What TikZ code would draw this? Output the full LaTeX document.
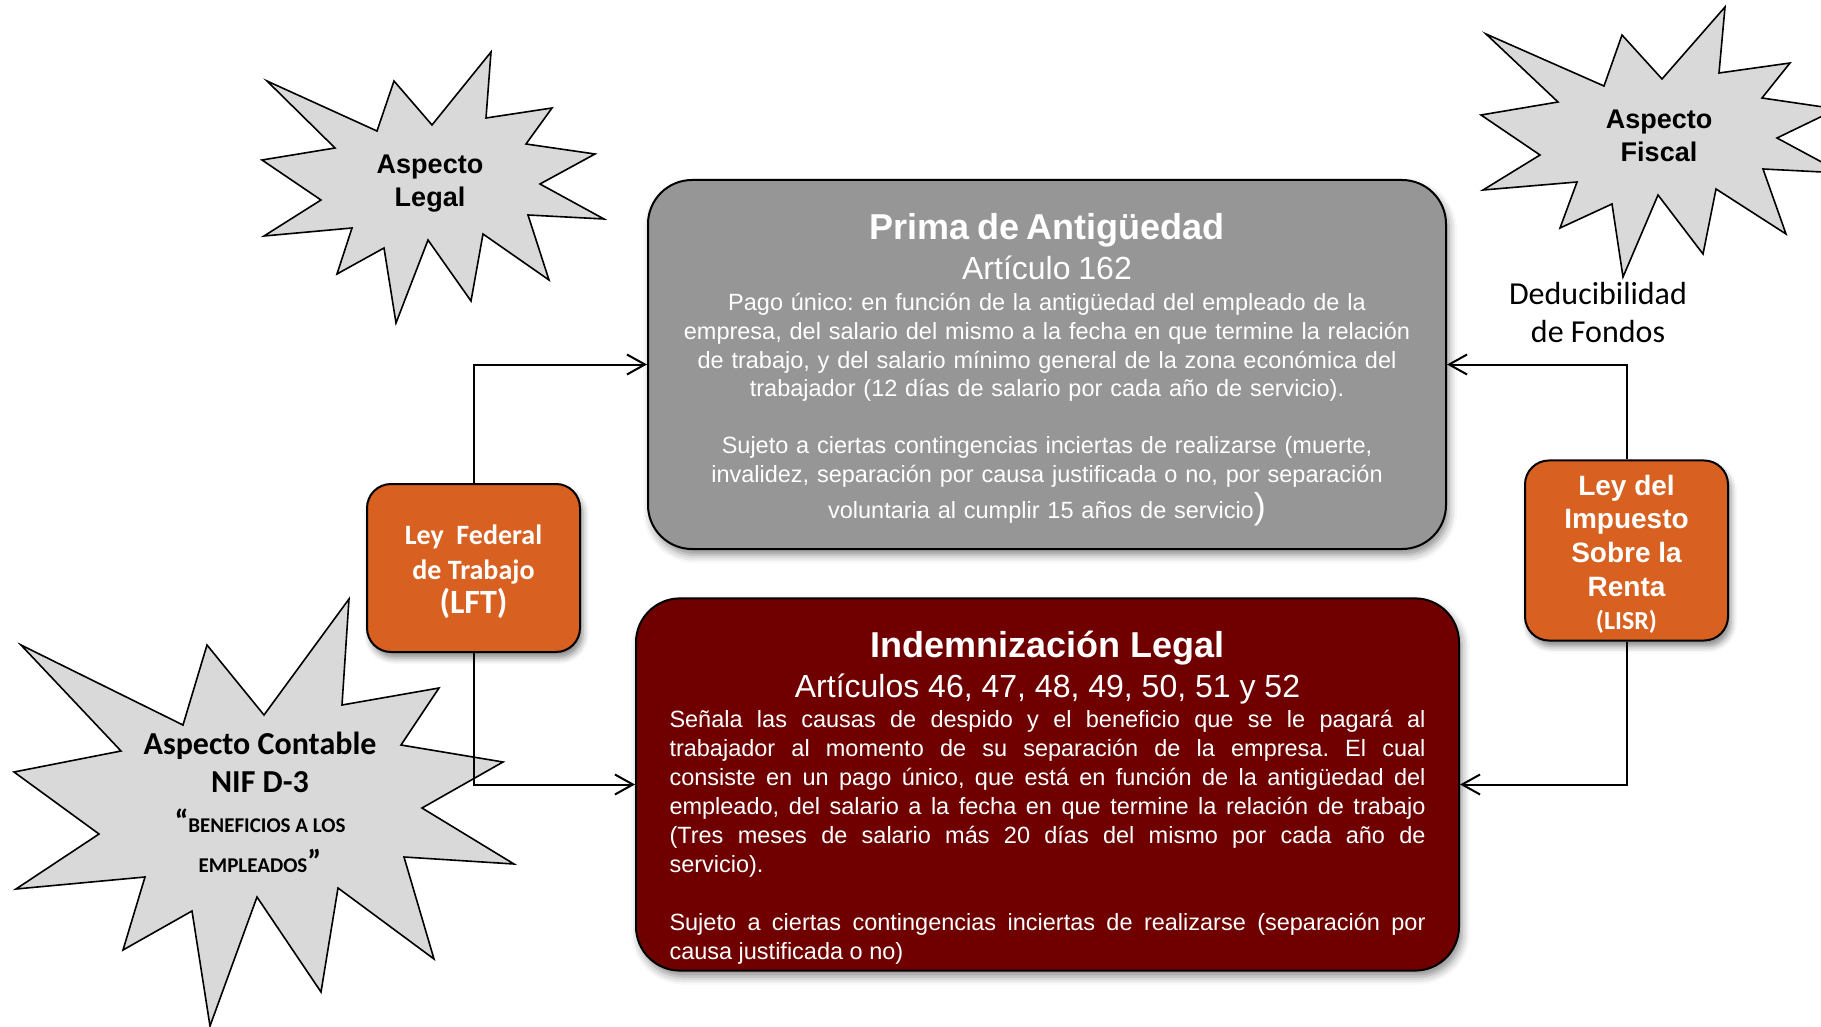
\documentclass[tikz,border=0pt]{standalone}
\usepackage{fontspec}
\setmainfont{Liberation Sans}
\newfontfamily\calibri{Carlito}
\usetikzlibrary{arrows.meta,shadows.blur}
\frenchspacing

\definecolor{primagray}{RGB}{150,150,150}
\definecolor{indemred}{RGB}{112,0,0}
\definecolor{leyorange}{RGB}{216,96,32}
\definecolor{blastgray}{RGB}{217,217,217}

\begin{document}
\begin{tikzpicture}[x=0.5pt,y=-0.5pt,
  blast/.style={draw=black,fill=blastgray,line width=0.8pt},
  blasttext/.style={align=center,font=\bfseries\fontsize{13.5}{16.5}\selectfont},
  bigbox/.style={draw=black,line width=1pt,rounded corners=22pt,text=white,
    blur shadow={shadow xshift=1.5pt,shadow yshift=-3pt,shadow blur radius=4pt,shadow opacity=45}},
  leybox/.style={draw=black,fill=leyorange,line width=1pt,rounded corners=12pt,text=white,align=center,
    blur shadow={shadow xshift=1.5pt,shadow yshift=-3pt,shadow blur radius=3pt,shadow opacity=45}},
  link/.style={line width=1pt,-{Straight Barb[length=9pt,width=10pt]}}]
  \useasboundingbox (0,0) rectangle (1821,1027);
  \clip (0,0) rectangle (1821,1027);

  \filldraw[blast] (267,81) -- (377,131) -- (394,81) -- (432,125) -- (491,52) -- (486,118) -- (552,108) -- (526,144)
    -- (595,154) -- (540,184) -- (604,219) -- (528,215) -- (549,280) -- (483,234) -- (471,301) -- (428,240)
    -- (396,323) -- (384,248) -- (337,274) -- (352,228) -- (264,236) -- (321,200) -- (262,160) -- (335,148) -- cycle;
  \filldraw[blast] (1486,34) -- (1604,86) -- (1622,35) -- (1662,79) -- (1725,7) -- (1719,73) -- (1790,63) -- (1762,98)
    -- (1837,109) -- (1777,138) -- (1842,173) -- (1763,169) -- (1786,234) -- (1716,189) -- (1703,254) -- (1658,195)
    -- (1623,277) -- (1612,204) -- (1560,228) -- (1577,182) -- (1483,190) -- (1540,155) -- (1481,115) -- (1558,102) -- cycle;
  \filldraw[blast] (21,645) -- (183,725) -- (207,645) -- (264,715) -- (349,599) -- (342,705) -- (439,688) -- (401,745)
    -- (503,762) -- (422,808) -- (514,864) -- (404,857) -- (434,959) -- (338,888) -- (321,992) -- (257,897)
    -- (210,1026) -- (192,911) -- (123,950) -- (145,877) -- (16,889) -- (99,834) -- (14,772) -- (121,751) -- cycle;

  \node[blasttext] (legal) at (430,184) {Aspecto\\Legal};
  \node[blasttext] (fiscal) at (1659,136) {Aspecto\\Fiscal};
  \node[align=center,font=\calibri\bfseries\fontsize{16}{19}\selectfont] (contable) at (260,802)
    {Aspecto Contable\\NIF D-3\\[1pt]{\fontsize{16}{19}\selectfont“}{\fontsize{10.5}{19}\selectfont BENEFICIOS A LOS}\\[1pt]
     {\fontsize{10.5}{19}\selectfont EMPLEADOS}{\fontsize{16}{19}\selectfont”}};
  \node[align=center,font=\calibri\fontsize{16}{19}\selectfont] (deduc) at (1598,313) {Deducibilidad\\de Fondos};

  \node[bigbox,fill=primagray,minimum width=399pt,minimum height=184.5pt,text width=380pt,align=center,
    font=\fontsize{11.75}{14.3}\selectfont] (prima) at (1047,364.5) {%
    {\bfseries\fontsize{18}{20}\selectfont\rule{0pt}{18.5pt}Prima de Antigüedad\par}
    {\fontsize{16}{20}\selectfont Artículo 162\par}
    \vspace{1.2pt}
    Pago único: en función de la antigüedad del empleado de la\\
    empresa, del salario del mismo a la fecha en que termine la relación\\
    de trabajo, y del salario mínimo general de la zona económica del\\
    trabajador (12 días de salario por cada año de servicio).\\[14.3pt]
    Sujeto a ciertas contingencias inciertas de realizarse (muerte,\\
    invalidez, separación por causa justificada o no, por separación\\[1.5pt]
    voluntaria al cumplir 15 años de servicio{\fontsize{18}{18}\selectfont)}\par};

  \node[bigbox,fill=indemred,minimum width=411.5pt,minimum height=185.5pt,text width=378pt,align=justify,
    font=\fontsize{11.75}{14.5}\selectfont] (indem) at (1047.5,784.5) {%
    \tolerance=9999\hbadness=10000
    {\centering\bfseries\fontsize{18}{20}\selectfont\rule{0pt}{26pt}Indemnización Legal\par}
    {\centering\fontsize{16}{20}\selectfont Artículos 46, 47, 48, 49, 50, 51 y 52\par}
    \vspace{0.5pt}
    Señala las causas de despido y el beneficio que se le pagará al\linebreak
    trabajador al momento de su separación de la empresa. El cual\linebreak
    consiste en un pago único, que está en función de la antigüedad del\linebreak
    empleado, del salario a la fecha en que termine la relación de trabajo\linebreak
    (Tres meses de salario más 20 días del mismo por cada año de\linebreak
    servicio).\par
    \vspace{14.5pt}
    Sujeto a ciertas contingencias inciertas de realizarse (separación por\linebreak
    causa justificada o no)\par};

  \node[leybox,minimum width=106.5pt,minimum height=84pt,font=\calibri\bfseries\fontsize{14}{17.25}\selectfont] (lft)
    at (473.5,568) {\rule{0pt}{14pt}Ley~~Federal\\de Trabajo\\{\fontsize{17}{17.25}\selectfont(LFT)}};
  \node[leybox,minimum width=101.5pt,minimum height=89.5pt,font=\bfseries\fontsize{14}{16.85}\selectfont] (lisr)
    at (1626.5,550.5) {\rule{0pt}{14pt}Ley del\\Impuesto\\Sobre la\\Renta\\{\calibri\fontsize{13}{16.85}\selectfont(LISR)}};

  \draw[link] (lft.north) |- (prima.west);
  \draw[link] (lft.south) |- (indem.west);
  \draw[link] (lisr.north) |- (prima.east);
  \draw[link] (lisr.south) |- (indem.east);
\end{tikzpicture}
\end{document}
